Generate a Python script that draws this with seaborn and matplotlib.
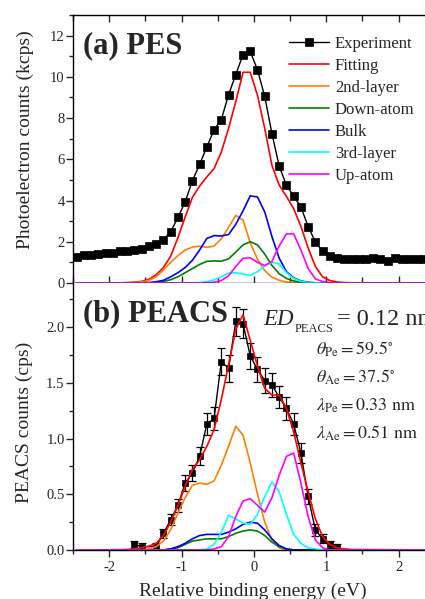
import matplotlib
matplotlib.use("Agg")
import matplotlib.pyplot as plt
from matplotlib.ticker import MultipleLocator
import pandas as pd
import seaborn as sns

# ---------------- Data ----------------
# (a) PES: experiment (kcps) on a 0.1 eV grid
x_exp_a = [-2.45, -2.35, -2.25, -2.15, -2.05, -1.95, -1.85, -1.75, -1.65, -1.55,
           -1.45, -1.35, -1.25, -1.15, -1.05, -0.95, -0.85, -0.75, -0.65, -0.55,
           -0.45, -0.35, -0.25, -0.15, -0.05, 0.05, 0.15, 0.25, 0.35, 0.45,
           0.55, 0.65, 0.75, 0.85, 0.95, 1.05, 1.15, 1.25, 1.35, 1.45,
           1.55, 1.65, 1.75, 1.85, 1.95, 2.05, 2.15, 2.25, 2.35]
pes_exp = [1.26, 1.37, 1.37, 1.42, 1.47, 1.47, 1.53, 1.55, 1.62, 1.64,
           1.79, 1.90, 2.10, 2.48, 3.18, 3.93, 4.96, 5.75, 6.60, 7.43,
           7.93, 9.13, 10.11, 11.08, 11.23, 10.34, 9.05, 7.24, 5.67, 4.74,
           4.21, 3.69, 2.74, 1.99, 1.54, 1.31, 1.21, 1.16, 1.15, 1.15,
           1.16, 1.23, 1.16, 1.08, 1.21, 1.16, 1.18, 1.18, 1.18]

# fit curves share this grid (flat zero outside it)
x_fit = [-2.45, -1.85, -1.75, -1.65, -1.55, -1.45, -1.35, -1.25, -1.15, -1.05,
         -0.95, -0.85, -0.75, -0.65, -0.55, -0.45, -0.35, -0.25, -0.15, -0.05,
         0.05, 0.15, 0.25, 0.35, 0.45, 0.55, 0.65, 0.75, 0.85, 0.95,
         1.05, 1.15, 1.25, 1.35, 2.45]

pes_fitting = [0, 0.01, 0.02, 0.04, 0.08, 0.18, 0.40, 0.75, 1.30, 2.20,
               3.20, 4.15, 4.70, 5.15, 5.55, 6.35, 7.50, 8.80, 10.22, 10.22,
               9.10, 7.50, 5.70, 4.75, 4.20, 3.60, 2.75, 1.70, 0.80, 0.30,
               0.12, 0.05, 0.02, 0.01, 0]
pes_2nd = [0, 0, 0.01, 0.02, 0.05, 0.13, 0.30, 0.63, 1.00, 1.33,
           1.60, 1.74, 1.79, 1.73, 1.79, 2.15, 2.70, 3.28, 3.05, 1.95,
           1.15, 0.60, 0.28, 0.13, 0.05, 0.02, 0.01, 0, 0, 0,
           0, 0, 0, 0, 0]
pes_down = [0, 0, 0, 0, 0, 0.01, 0.03, 0.07, 0.16, 0.30,
            0.50, 0.70, 0.90, 1.05, 1.07, 1.06, 1.17, 1.50, 1.85, 2.00,
            1.85, 1.40, 0.85, 0.45, 0.22, 0.10, 0.04, 0.01, 0, 0,
            0, 0, 0, 0, 0]
pes_bulk = [0, 0, 0, 0, 0.01, 0.02, 0.06, 0.13, 0.30, 0.50,
            0.75, 1.10, 1.60, 2.16, 2.30, 2.28, 2.35, 2.85, 3.50, 4.23,
            4.17, 3.45, 2.25, 1.20, 0.55, 0.25, 0.10, 0.04, 0.01, 0,
            0, 0, 0, 0, 0]
pes_3rd = [0, 0, 0, 0, 0, 0, 0, 0, 0, 0,
           0, 0.01, 0.02, 0.07, 0.15, 0.30, 0.48, 0.50, 0.43, 0.37,
           0.55, 0.82, 1.02, 0.92, 0.50, 0.22, 0.08, 0.03, 0.01, 0,
           0, 0, 0, 0, 0]
pes_up = [0, 0, 0, 0, 0, 0, 0, 0, 0, 0,
          0, 0, 0, 0.01, 0.04, 0.12, 0.35, 0.80, 1.20, 1.22,
          1.00, 0.85, 1.05, 1.80, 2.38, 2.38, 1.60, 0.70, 0.20, 0.07,
          0.02, 0, 0, 0, 0]

# (b) PEACS: experiment (cps) with error bars
x_exp_b = [-1.65, -1.55, -1.35, -1.25, -1.15, -1.05, -0.95, -0.85, -0.75, -0.65,
           -0.55, -0.45, -0.35, -0.25, -0.15, -0.05, 0.05, 0.15, 0.25, 0.35,
           0.45, 0.55, 0.65, 0.75, 0.85, 0.95, 1.05, 1.15]
peacs_exp = [0.05, 0.03, 0.03, 0.15, 0.27, 0.40, 0.60, 0.69, 0.84, 1.13,
             1.18, 1.69, 1.63, 2.05, 2.03, 1.74, 1.62, 1.52, 1.48, 1.37,
             1.27, 1.13, 0.87, 0.48, 0.18, 0.10, 0.05, 0.02]
peacs_err = [0.03, 0.03, 0.03, 0.04, 0.05, 0.06, 0.07, 0.07, 0.08, 0.10,
             0.10, 0.12, 0.12, 0.13, 0.13, 0.12, 0.11, 0.11, 0.11, 0.10,
             0.10, 0.10, 0.09, 0.07, 0.05, 0.04, 0.03, 0.03]

peacs_fitting = [0, 0.003, 0.005, 0.01, 0.02, 0.035, 0.06, 0.13, 0.25, 0.40,
                 0.57, 0.72, 0.81, 0.93, 1.08, 1.35, 1.66, 1.98, 2.11, 1.88,
                 1.65, 1.45, 1.39, 1.39, 1.27, 1.06, 0.78, 0.52, 0.28, 0.12,
                 0.05, 0.02, 0.01, 0.005, 0]
peacs_2nd = [0, 0, 0, 0, 0, 0.01, 0.03, 0.08, 0.18, 0.33,
             0.47, 0.58, 0.60, 0.59, 0.62, 0.76, 0.93, 1.11, 1.03, 0.78,
             0.50, 0.25, 0.09, 0.02, 0, 0, 0, 0, 0, 0,
             0, 0, 0, 0, 0]
peacs_down = [0, 0, 0, 0, 0, 0, 0, 0, 0.01, 0.02,
              0.05, 0.08, 0.09, 0.10, 0.10, 0.10, 0.12, 0.15, 0.17, 0.18,
              0.17, 0.13, 0.07, 0.03, 0.01, 0, 0, 0, 0, 0,
              0, 0, 0, 0, 0]
peacs_bulk = [0, 0, 0, 0, 0, 0, 0, 0, 0.01, 0.03,
              0.06, 0.10, 0.13, 0.14, 0.14, 0.14, 0.16, 0.19, 0.23, 0.25,
              0.24, 0.18, 0.10, 0.04, 0.01, 0, 0, 0, 0, 0,
              0, 0, 0, 0, 0]
peacs_3rd = [0, 0, 0, 0, 0, 0, 0, 0, 0, 0,
             0, 0, 0, 0.01, 0.05, 0.16, 0.31, 0.28, 0.24, 0.23,
             0.32, 0.48, 0.61, 0.52, 0.32, 0.14, 0.06, 0.02, 0.01, 0,
             0, 0, 0, 0, 0]
peacs_up = [0, 0, 0, 0, 0, 0, 0, 0, 0, 0,
            0, 0, 0, 0, 0.01, 0.03, 0.12, 0.30, 0.44, 0.46,
            0.40, 0.34, 0.47, 0.67, 0.84, 0.87, 0.60, 0.30, 0.09, 0.02,
            0, 0, 0, 0, 0]

names = ["Fitting", "2nd-layer", "Down-atom", "Bulk", "3rd-layer", "Up-atom"]
colors = ["#ff0000", "#ff8000", "#008000", "#0000ff", "#00ffff", "#ff00ff"]
pes_curves = [pes_fitting, pes_2nd, pes_down, pes_bulk, pes_3rd, pes_up]
peacs_curves = [peacs_fitting, peacs_2nd, peacs_down, peacs_bulk, peacs_3rd, peacs_up]

# ---------------- Style ----------------
sns.set_style("ticks")
plt.rcParams["font.family"] = ["Liberation Serif", "DejaVu Serif"]
plt.rcParams["mathtext.fontset"] = "stix"
plt.rcParams["axes.unicode_minus"] = False

W, H = 425, 599
fig = plt.figure(figsize=(W / 100, H / 100), dpi=100)


def fx(px):
    return px / W


def fy(py):
    return 1 - py / H


ax_a = fig.add_axes([fx(73), fy(283), 361.75 / W, 268 / H])
ax_b = fig.add_axes([fx(73), fy(550), 361.75 / W, 267 / H])

# ---------------- (a) PES ----------------
df_exp_a = pd.DataFrame({"E": x_exp_a, "I": pes_exp})
sns.lineplot(data=df_exp_a, x="E", y="I", ax=ax_a, color="black", lw=1.0,
             marker="s", markersize=5.4, markeredgecolor="black",
             markeredgewidth=0.5, label="Experiment")
for name, col, vals in zip(names, colors, pes_curves):
    d = pd.DataFrame({"E": x_fit, "I": vals})
    sns.lineplot(data=d, x="E", y="I", ax=ax_a, color=col, lw=1.2, label=name)

# ---------------- (b) PEACS ----------------
ax_b.errorbar(x_exp_b, peacs_exp, yerr=peacs_err, fmt="none", ecolor="black",
              elinewidth=0.9, capsize=2.6, capthick=0.9)
df_exp_b = pd.DataFrame({"E": x_exp_b, "I": peacs_exp})
sns.lineplot(data=df_exp_b, x="E", y="I", ax=ax_b, color="black", lw=1.0,
             marker="s", markersize=4.6, markeredgecolor="black",
             markeredgewidth=0.5)
for name, col, vals in zip(names, colors, peacs_curves):
    d = pd.DataFrame({"E": x_fit, "I": vals})
    sns.lineplot(data=d, x="E", y="I", ax=ax_b, color=col, lw=1.2)

# ---------------- Axes ----------------
handles, labels = ax_a.get_legend_handles_labels()
for ax in (ax_a, ax_b):
    ax.set_xlim(-2.5, 2.5)
    ax.xaxis.set_major_locator(MultipleLocator(1))
    ax.xaxis.set_minor_locator(MultipleLocator(0.5))
    ax.set_xlabel("")
    ax.set_ylabel("")
    for s in ax.spines.values():
        s.set_linewidth(1.0)
        s.set_color("black")
    if ax.get_legend() is not None:
        ax.get_legend().remove()

ax_a.set_ylim(0, 13)
ax_a.yaxis.set_major_locator(MultipleLocator(2))
ax_a.yaxis.set_minor_locator(MultipleLocator(1))
ax_a.tick_params(axis="y", which="both", direction="out", labelsize=10.5, pad=1)
ax_a.tick_params(axis="y", which="major", length=5, width=1)
ax_a.tick_params(axis="y", which="minor", length=3, width=1)
ax_a.tick_params(axis="x", which="both", direction="in", top=True, bottom=True,
                 labelbottom=False, width=1)
ax_a.tick_params(axis="x", which="major", length=5)
ax_a.tick_params(axis="x", which="minor", length=4)

ax_b.set_ylim(0, 2.395)
ax_b.spines["top"].set_visible(False)
ax_b.yaxis.set_major_locator(MultipleLocator(0.5))
ax_b.yaxis.set_minor_locator(MultipleLocator(0.25))
ax_b.tick_params(axis="y", which="both", direction="out", labelsize=10.5, pad=1)
ax_b.tick_params(axis="y", which="major", length=5, width=1)
ax_b.tick_params(axis="y", which="minor", length=3, width=1)
ax_b.tick_params(axis="x", which="both", direction="out", top=False,
                 labelsize=10.5, pad=3, width=1)
ax_b.tick_params(axis="x", which="major", length=5)
ax_b.tick_params(axis="x", which="minor", length=3)

# ---------------- Labels and text ----------------
fig.text(fx(25), fy(140), "Photoelectron counts (kcps)", rotation=90,
         ha="center", va="center", fontsize=14)
fig.text(fx(24), fy(422), "PEACS counts (cps)", rotation=90,
         ha="center", va="center", fontsize=14)
fig.text(fx(253), fy(596), "Relative binding energy (eV)", ha="center",
         va="baseline", fontsize=14)

fig.text(fx(83), fy(53), "(a) PES", fontsize=22, fontweight="bold", va="baseline")
fig.text(fx(83), fy(321), "(b) PEACS", fontsize=22, fontweight="bold", va="baseline")

fig.text(fx(263), fy(325), "ED", fontsize=16.5, style="italic", va="baseline")
fig.text(fx(295), fy(332), "PEACS", fontsize=9, va="baseline")
fig.text(fx(337), fy(325), "= 0.12 nm", fontsize=17.5, va="baseline")

params = [r"$\theta_{\mathrm{Pe}} = 59.5^{\circ}$",
          r"$\theta_{\mathrm{Ae}} = 37.5^{\circ}$",
          r"$\lambda_{\mathrm{Pe}} = 0.33\ \mathrm{nm}$",
          r"$\lambda_{\mathrm{Ae}} = 0.51\ \mathrm{nm}$"]
for txt, base in zip(params, [355, 383, 411, 439]):
    fig.text(fx(316), fy(base), txt, fontsize=13, va="baseline")

fig.legend(handles, labels, loc="upper left", bbox_to_anchor=(fx(289), fy(35.5)),
           frameon=False, fontsize=12, handlelength=2.4, handletextpad=0.35,
           labelspacing=0.36, borderpad=0, borderaxespad=0)

fig.savefig("out.png", dpi=100)
